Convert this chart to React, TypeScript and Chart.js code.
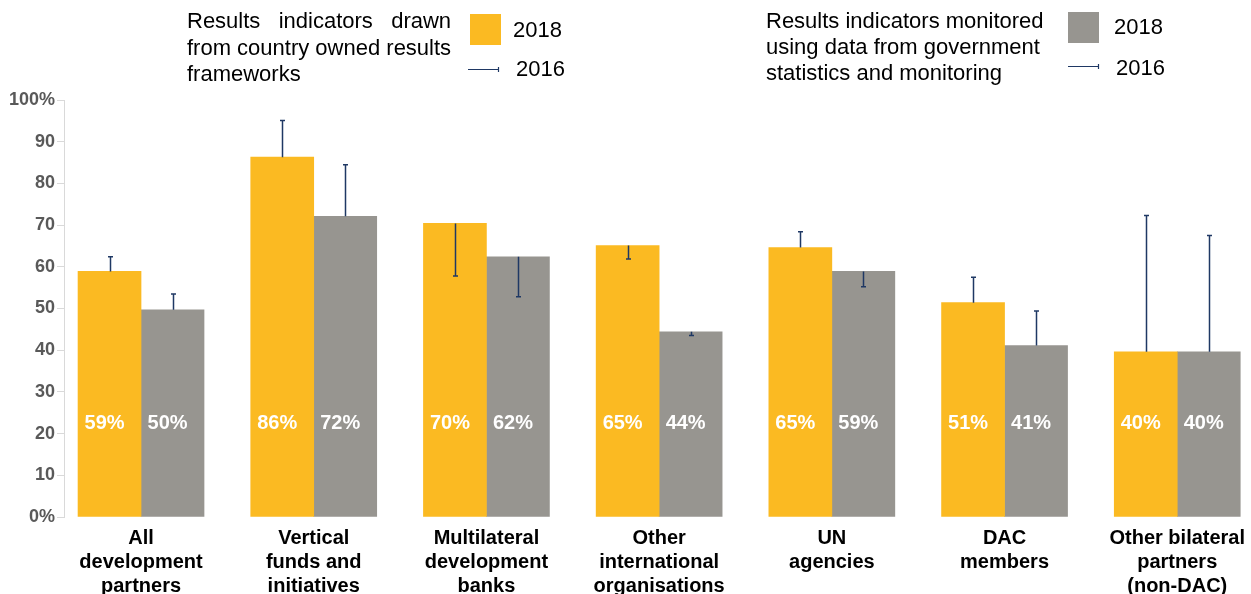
import React, { useEffect, useRef } from 'react';
import { Chart, registerables } from 'chart.js';

Chart.register(...registerables);

// ---------- data ----------
const CATEGORIES: string[][] = [
  ['All', 'development', 'partners'],
  ['Vertical', 'funds and', 'initiatives'],
  ['Multilateral', 'development', 'banks'],
  ['Other', 'international', 'organisations'],
  ['UN', 'agencies'],
  ['DAC', 'members'],
  ['Other bilateral', 'partners', '(non-DAC)'],
];
// Results indicators drawn from country owned results frameworks
const OWNED_2018 = [58.9, 86.3, 70.4, 65.1, 64.6, 51.4, 39.6];
const OWNED_2016 = [62.4, 95.1, 57.8, 61.9, 68.4, 57.5, 72.3];
// Results indicators monitored using data from government statistics and monitoring
const STATS_2018 = [49.7, 72.1, 62.4, 44.4, 58.9, 41.1, 39.6];
const STATS_2016 = [53.5, 84.5, 52.8, 43.5, 55.2, 49.4, 67.5];

const Y_TICKS = [0, 10, 20, 30, 40, 50, 60, 70, 80, 90, 100];

const LEGEND_LEFT_LINES = ['Results indicators drawn', 'from country owned results', 'frameworks'];
const LEGEND_RIGHT_LINES = ['Results indicators monitored', 'using data from government', 'statistics and monitoring'];
const LEGEND_YEARS = ['2018', '2016'];

const ORANGE = '#FBBA22';
const GRAY = '#979590';
const NAVY = '#1F3864';
const FONT = '"Liberation Sans", Arial, sans-serif';

const prevByDataset = [OWNED_2016, STATS_2016];

const errorBarsPlugin = {
  id: 'errorBars',
  afterDatasetsDraw(chart: any) {
    const ctx = chart.ctx;
    const yScale = chart.scales.y;
    ctx.save();
    ctx.strokeStyle = NAVY;
    ctx.lineWidth = 1.5;
    chart.data.datasets.forEach((ds: any, di: number) => {
      const meta = chart.getDatasetMeta(di);
      meta.data.forEach((bar: any, i: number) => {
        const prev = prevByDataset[di][i];
        const yp = yScale.getPixelForValue(prev);
        const x = Math.round(bar.x) + 0.5;
        ctx.beginPath();
        ctx.moveTo(x, bar.y);
        ctx.lineTo(x, yp);
        ctx.moveTo(x - 2.5, yp);
        ctx.lineTo(x + 2.5, yp);
        ctx.stroke();
      });
    });
    ctx.restore();
  },
};

const barLabelsPlugin = {
  id: 'barLabels',
  afterDatasetsDraw(chart: any) {
    const ctx = chart.ctx;
    const area = chart.chartArea;
    ctx.save();
    ctx.fillStyle = '#FFFFFF';
    ctx.font = `bold 20px ${FONT}`;
    ctx.textAlign = 'center';
    ctx.textBaseline = 'middle';
    chart.data.datasets.forEach((ds: any, di: number) => {
      const meta = chart.getDatasetMeta(di);
      meta.data.forEach((bar: any, i: number) => {
        const v = ds.data[i].y;
        ctx.fillText(Math.round(v) + '%', bar.x - 5, area.bottom - 94);
      });
    });
    ctx.restore();
  },
};

const legendPlugin = {
  id: 'customLegend',
  afterDraw(chart: any) {
    const ctx = chart.ctx;
    ctx.save();
    ctx.font = `22px ${FONT}`;
    ctx.fillStyle = '#000000';
    ctx.textBaseline = 'middle';
    ctx.textAlign = 'left';

    // left block (first line justified)
    const lx = 187;
    const lys = [22, 49, 75];
    const fullW = ctx.measureText(LEGEND_LEFT_LINES[1]).width;
    const words = LEGEND_LEFT_LINES[0].split(' ');
    const wsum = words.reduce((s, w) => s + ctx.measureText(w).width, 0);
    const gap = (fullW - wsum) / (words.length - 1);
    let cx = lx;
    words.forEach((w) => {
      ctx.fillText(w, cx, lys[0]);
      cx += ctx.measureText(w).width + gap;
    });
    ctx.fillText(LEGEND_LEFT_LINES[1], lx, lys[1]);
    ctx.fillText(LEGEND_LEFT_LINES[2], lx, lys[2]);

    ctx.fillStyle = ORANGE;
    ctx.fillRect(470, 14, 31, 31);
    ctx.fillStyle = '#000000';
    ctx.fillText(LEGEND_YEARS[0], 513, 31);
    ctx.fillText(LEGEND_YEARS[1], 516, 70);

    // right block
    const rx = 766;
    const rys = [22, 48, 74];
    LEGEND_RIGHT_LINES.forEach((t, i) => ctx.fillText(t, rx, rys[i]));
    ctx.fillStyle = GRAY;
    ctx.fillRect(1068, 12, 31, 31);
    ctx.fillStyle = '#000000';
    ctx.fillText(LEGEND_YEARS[0], 1114, 28);
    ctx.fillText(LEGEND_YEARS[1], 1116, 69);

    // 2016 line markers
    ctx.strokeStyle = NAVY;
    ctx.lineWidth = 1.2;
    const drawMarker = (x0: number, x1: number, y: number) => {
      ctx.beginPath();
      ctx.moveTo(x0, y + 0.5);
      ctx.lineTo(x1, y + 0.5);
      ctx.moveTo(x1 + 0.5, y - 2);
      ctx.lineTo(x1 + 0.5, y + 3);
      ctx.stroke();
    };
    drawMarker(468, 498, 69);
    drawMarker(1068, 1098, 66);
    ctx.restore();
  },
};

export default function App() {
  const canvasRef = useRef<HTMLCanvasElement | null>(null);

  useEffect(() => {
    if (!canvasRef.current) return;
    const chart = new Chart(canvasRef.current, {
      type: 'bar',
      data: {
        datasets: [
          {
            label: 'Country owned results frameworks 2018',
            data: OWNED_2018.map((v, i) => ({ x: i, y: v })),
            backgroundColor: ORANGE,
            borderWidth: 0,
          },
          {
            label: 'Government statistics and monitoring 2018',
            data: STATS_2018.map((v, i) => ({ x: i, y: v })),
            backgroundColor: GRAY,
            borderWidth: 0,
          },
        ],
      },
      options: {
        responsive: false,
        animation: false,
        devicePixelRatio: 1,
        barThickness: 63,
        layout: { padding: { top: 100, left: 0, right: 0, bottom: 0 } },
        plugins: {
          legend: { display: false },
          tooltip: { enabled: false },
        },
        scales: {
          x: {
            type: 'linear',
            offset: false,
            min: -0.446,
            max: 6.427,
            grid: { display: false, offset: false },
            border: { display: false },
            afterBuildTicks: (scale: any) => {
              scale.ticks = CATEGORIES.map((_, i) => ({ value: i }));
            },
            ticks: {
              autoSkip: false,
              maxRotation: 0,
              minRotation: 0,
              padding: 1,
              color: '#000000',
              font: { family: FONT, size: 20, weight: 'bold', lineHeight: 1.2 },
              callback: (v: any) => CATEGORIES[v] ?? '',
            },
          },
          y: {
            min: 0,
            max: 100,
            afterBuildTicks: (scale: any) => {
              scale.ticks = Y_TICKS.map((v) => ({ value: v }));
            },
            afterFit: (scale: any) => {
              scale.width = 64;
            },
            grid: {
              display: true,
              drawOnChartArea: false,
              drawTicks: true,
              tickLength: 7,
              color: '#D9D9D9',
            },
            border: { display: true, color: '#D9D9D9', width: 1 },
            ticks: {
              padding: 2,
              color: '#595959',
              font: { family: FONT, size: 18, weight: 'bold' },
              callback: (v: any) => (v === 0 || v === 100 ? v + '%' : String(v)),
            },
          },
        },
      } as any,
      plugins: [errorBarsPlugin, barLabelsPlugin, legendPlugin],
    });
    return () => chart.destroy();
  }, []);

  return (
    <div style={{ position: 'fixed', left: 0, top: 0, width: 1251, height: 599, background: '#FFFFFF' }}>
      <canvas ref={canvasRef} width={1251} height={599} style={{ display: 'block' }} />
    </div>
  );
}
